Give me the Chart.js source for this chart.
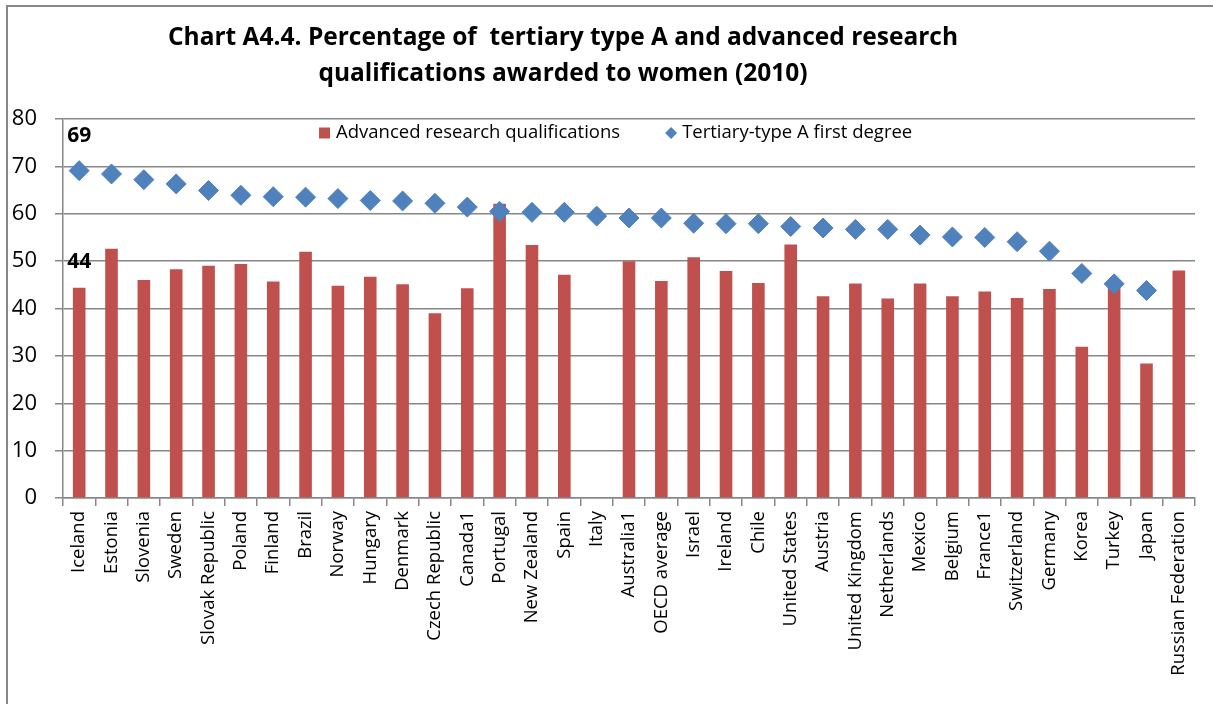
<!DOCTYPE html>
<html>
<head>
<meta charset="utf-8">
<script src="https://cdn.jsdelivr.net/npm/chart.js@4"></script>
<style>
  body { margin: 0; background: #fff; }
  #wrap { position: relative; width: 1213px; height: 704px; }
  #frame { position: absolute; left: 6px; top: 5px; right: 0; bottom: 0;
           border-left: 2px solid #878787; border-top: 2px solid #878787; pointer-events: none; }
  canvas { position: absolute; left: 0; top: 0; }
</style>
</head>
<body>
<div id="wrap">
  <canvas id="chart" width="1213" height="704"></canvas>
  <div id="frame"></div>
</div>
<script>
// countries, in chart order
const countries = ['Iceland','Estonia','Slovenia','Sweden','Slovak Republic','Poland','Finland','Brazil',
  'Norway','Hungary','Denmark','Czech Republic','Canada1','Portugal','New Zealand','Spain','Italy',
  'Australia1','OECD average','Israel','Ireland','Chile','United States','Austria','United Kingdom',
  'Netherlands','Mexico','Belgium','France1','Switzerland','Germany','Korea','Turkey','Japan',
  'Russian Federation'];

// % advanced research qualifications awarded to women (Italy missing)
const advanced = [44.4,52.6,46.0,48.3,49.0,49.4,45.7,52.0,44.8,46.7,45.1,39.0,44.3,62.1,53.4,47.1,null,
  50.0,45.8,50.8,47.9,45.4,53.5,42.6,45.3,42.1,45.3,42.6,43.6,42.2,44.1,31.9,45.0,28.4,48.0];

// % tertiary-type A first degrees awarded to women (Russian Federation missing)
const tertiaryA = [69.1,68.4,67.2,66.3,64.9,63.9,63.6,63.5,63.2,62.8,62.7,62.2,61.4,60.5,60.3,60.3,59.5,
  59.1,59.1,58.0,57.9,57.9,57.3,57.0,56.7,56.7,55.5,55.1,55.0,54.1,52.1,47.4,45.2,43.8,null];

const yTicks = [0,10,20,30,40,50,60,70,80];

const titleLines = ['Chart A4.4. Percentage of  tertiary type A and advanced research',
  'qualifications awarded to women (2010)'];

const barColor = '#C0504D';
const dotColor = '#4F81BD';
const gridGrey = '#878787';
const font = 'Open Sans';

// chart title, centred a bit left of the plot like the original
const titlePlugin = {
  id: 'titleText',
  afterDraw(chart) {
    const ctx = chart.ctx;
    ctx.save();
    ctx.font = 'bold 24.5px "' + font + '"';
    ctx.fillStyle = '#000';
    ctx.textAlign = 'center';
    ctx.textBaseline = 'middle';
    ctx.fillText(titleLines[0], 563, 38);
    ctx.fillText(titleLines[1], 563, 74);
    ctx.restore();
  }
};

// legend drawn in one row inside the top of the plot
const rowLegend = {
  id: 'rowLegend',
  afterDatasetsDraw(chart) {
    const ctx = chart.ctx;
    const area = chart.chartArea;
    const ds = chart.data.datasets;
    ctx.save();
    ctx.font = '18.5px "' + font + '"';
    ctx.textBaseline = 'middle';
    ctx.textAlign = 'left';
    const y = area.top + 14;
    let x = area.left + 256;
    ctx.fillStyle = barColor;
    ctx.fillRect(x, y - 5.5, 11, 11);
    x += 17;
    ctx.fillStyle = '#000';
    ctx.fillText(ds[0].label, x, y);
    x += ctx.measureText(ds[0].label).width + 45;
    ctx.fillStyle = dotColor;
    ctx.beginPath();
    ctx.moveTo(x, y); ctx.lineTo(x + 6, y - 6); ctx.lineTo(x + 12, y); ctx.lineTo(x + 6, y + 6);
    ctx.closePath();
    ctx.fill();
    x += 17;
    ctx.fillStyle = '#000';
    ctx.fillText(ds[1].label, x, y);
    ctx.restore();
  }
};

// the "69" and "44" labels above Iceland
const firstLabels = {
  id: 'firstLabels',
  afterDatasetsDraw(chart) {
    const ctx = chart.ctx;
    ctx.save();
    ctx.font = 'bold 21px "' + font + '"';
    ctx.fillStyle = '#000';
    ctx.textAlign = 'center';
    ctx.textBaseline = 'middle';
    const bar = chart.getDatasetMeta(0).data[0];
    const pt = chart.getDatasetMeta(1).data[0];
    ctx.fillText(Math.round(tertiaryA[0]), pt.x, pt.y - 35);
    ctx.fillText(Math.round(advanced[0]), bar.x, bar.y - 26);
    ctx.restore();
  }
};

new Chart(document.getElementById('chart'), {
  data: {
    labels: countries,
    datasets: [
      {
        type: 'bar',
        label: 'Advanced research qualifications',
        data: advanced,
        backgroundColor: barColor,
        barPercentage: 0.39,
        categoryPercentage: 1,
        order: 2
      },
      {
        type: 'line',
        label: 'Tertiary-type A first degree',
        data: tertiaryA,
        showLine: false,
        pointStyle: 'rectRot',
        pointRadius: 10,
        pointBackgroundColor: dotColor,
        pointBorderColor: dotColor,
        pointBorderWidth: 1,
        backgroundColor: dotColor,
        borderColor: dotColor,
        order: 1
      }
    ]
  },
  options: {
    responsive: false,
    animation: false,
    events: [],
    layout: { padding: { left: 0, right: 18, top: 119, bottom: 0 } },
    plugins: {
      title: { display: false },
      tooltip: { enabled: false },
      legend: { display: false }
    },
    scales: {
      x: {
        offset: true,
        grid: { drawOnChartArea: false, offset: true, tickLength: 8, color: gridGrey, lineWidth: 1.5 },
        border: { color: gridGrey, width: 1.5 },
        ticks: {
          minRotation: 90, maxRotation: 90, autoSkip: false, padding: 5,
          color: '#000', font: { family: font, size: 18.5 }
        },
        afterFit(scale) { scale.height = 206; }
      },
      y: {
        min: 0, max: 80,
        afterBuildTicks(scale) { scale.ticks = yTicks.map(v => ({ value: v })); },
        grid: { tickLength: 8, color: gridGrey, lineWidth: 1.5 },
        border: { color: gridGrey, width: 1.5 },
        ticks: { padding: 18, color: '#000', font: { family: font, size: 22 } },
        afterFit(scale) { scale.width = 63; }
      }
    }
  },
  plugins: [titlePlugin, rowLegend, firstLabels]
});
</script>
</body>
</html>
